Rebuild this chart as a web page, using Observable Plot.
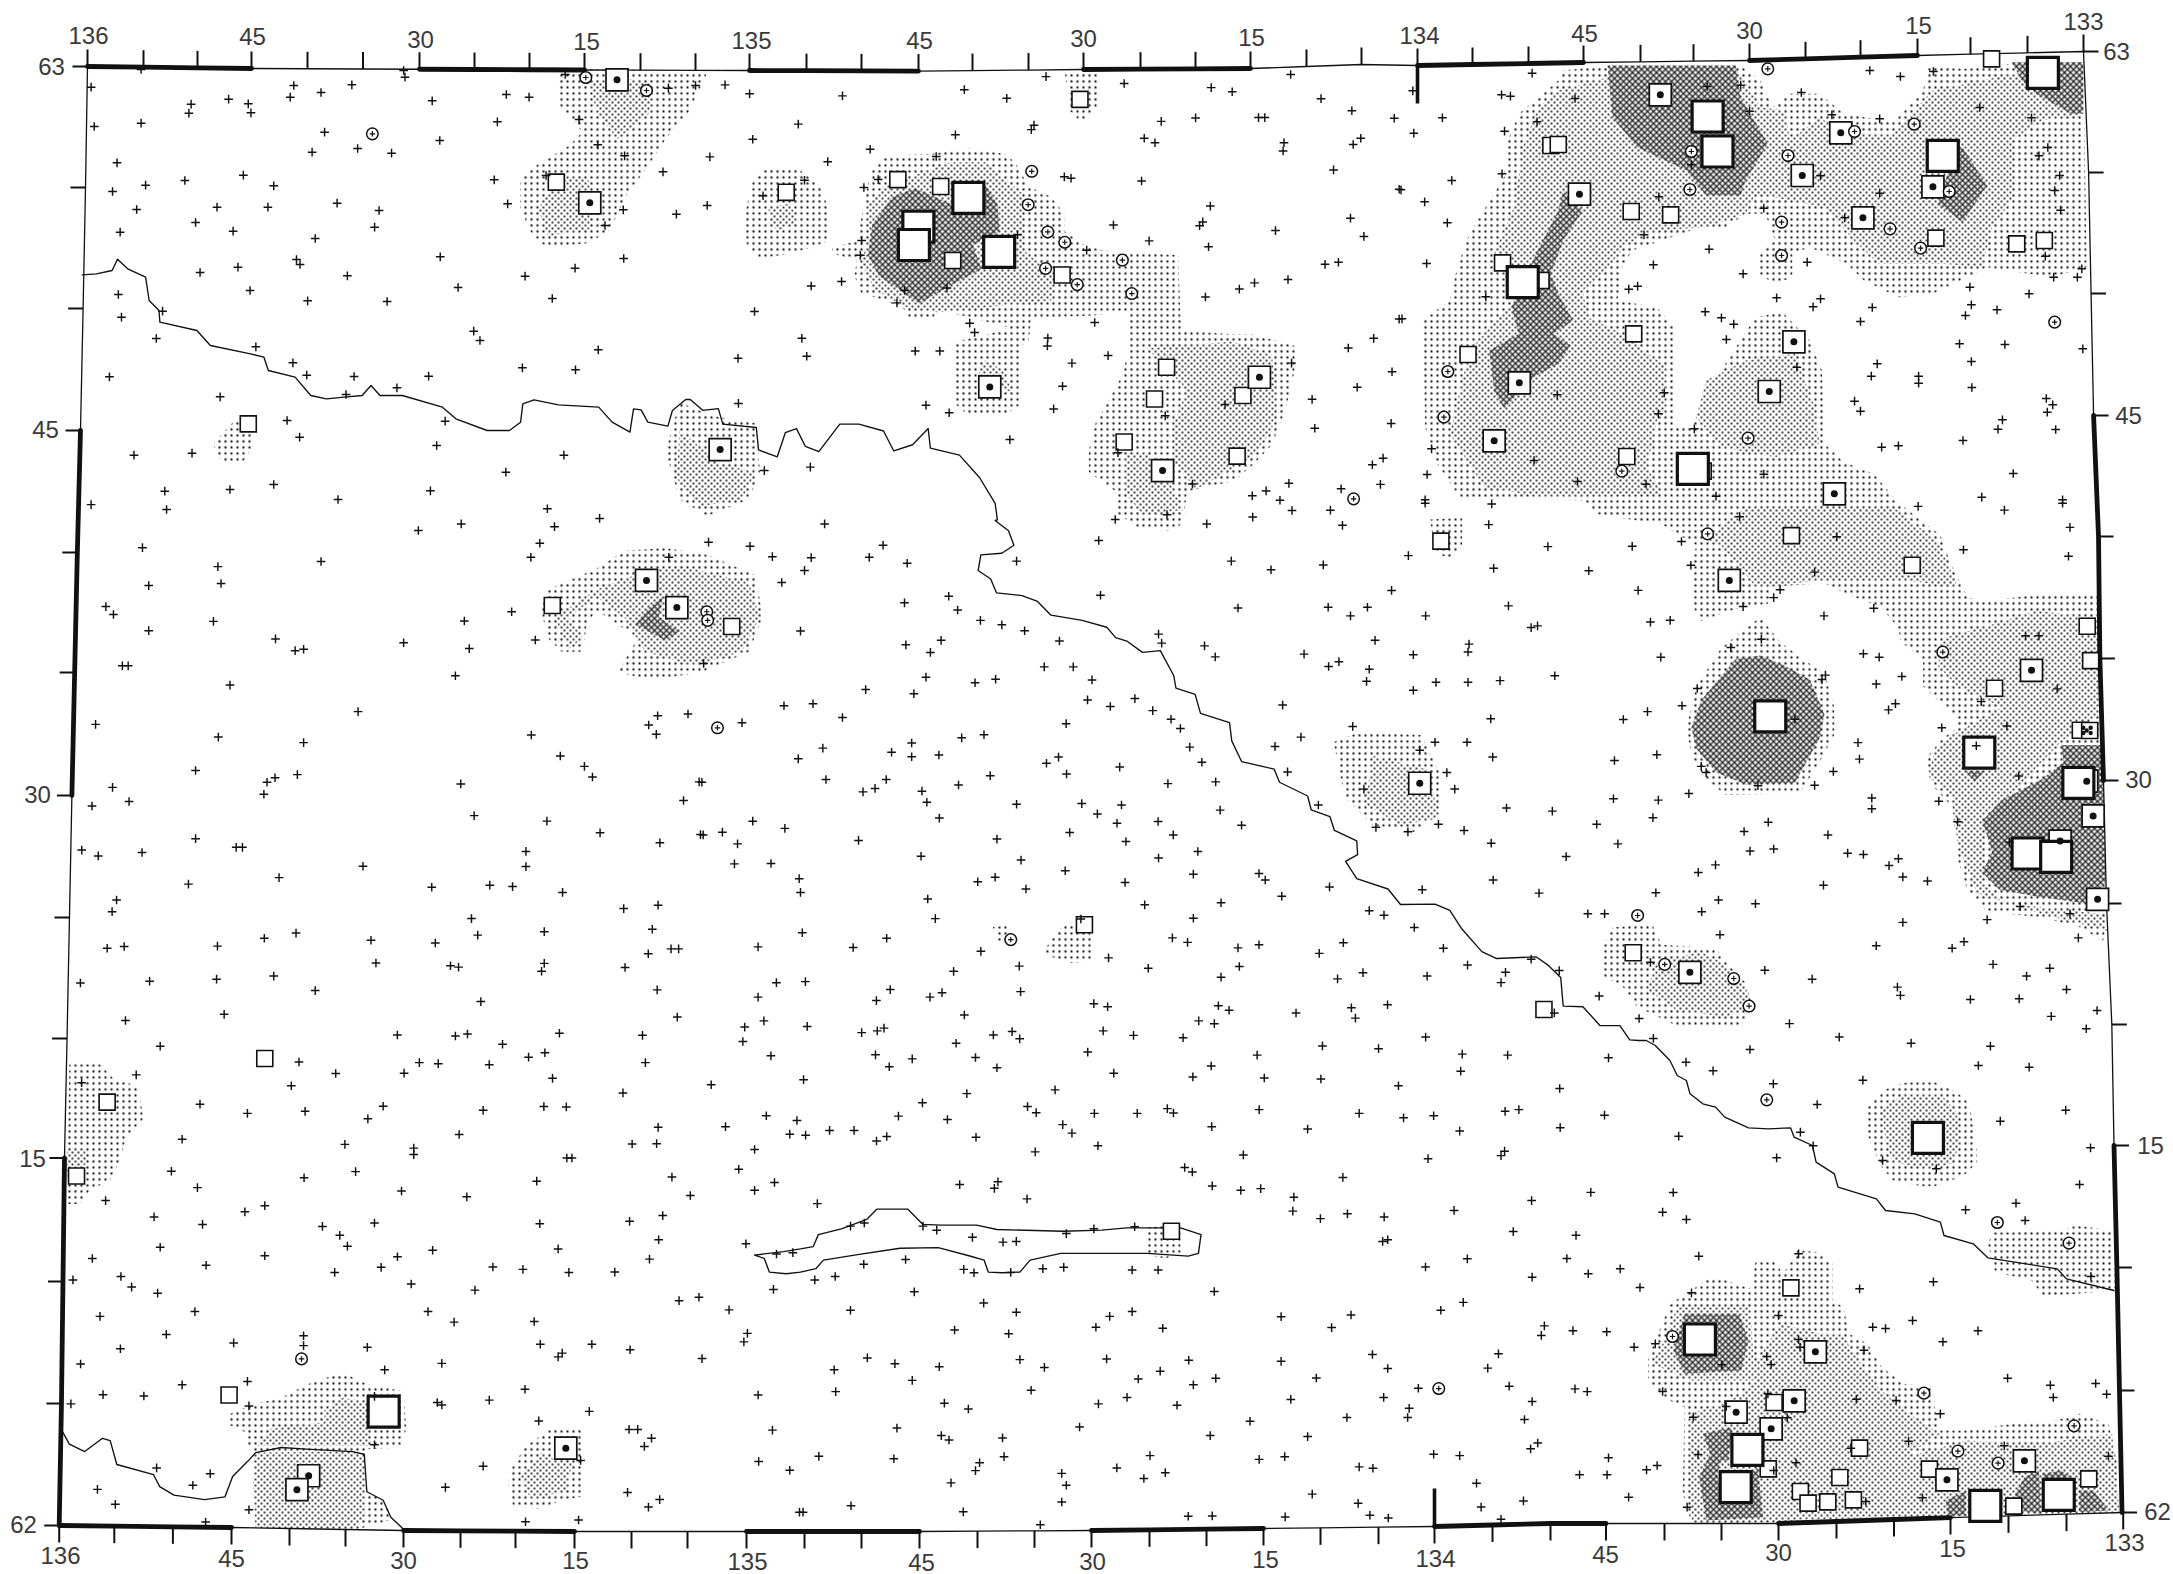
<!DOCTYPE html>
<html><head><meta charset="utf-8">
<style>html,body{margin:0;padding:0;background:#fff}svg{display:block}</style>
<script src="https://cdn.jsdelivr.net/npm/d3@7"></script>
<script src="https://cdn.jsdelivr.net/npm/@observablehq/plot@0.6"></script>
</head><body>
<svg width="0" height="0" style="position:absolute"><defs>
<pattern id="dots1" patternUnits="userSpaceOnUse" width="6" height="6"><circle cx="3" cy="3" r="1.15" fill="#111"/></pattern>
<pattern id="dots2" patternUnits="userSpaceOnUse" width="6" height="6"><rect width="6" height="6" fill="#fff"/><circle cx="3" cy="3" r="1.05" fill="#111"/><circle cx="0" cy="0" r="1.05" fill="#111"/><circle cx="6" cy="0" r="1.05" fill="#111"/><circle cx="0" cy="6" r="1.05" fill="#111"/><circle cx="6" cy="6" r="1.05" fill="#111"/></pattern>
<pattern id="hatch" patternUnits="userSpaceOnUse" width="6" height="6"><rect width="6" height="6" fill="#fff"/><path d="M0 0L6 6M6 0L0 6" stroke="#222" stroke-width="1.35"/></pattern>
</defs></svg>
<div id="chart"></div>
<script>
// digitising frames: origin and magnification of each reading sheet
const sheet=(x0,y0,w,h)=>({x0,y0,kx:1568/w,ky:Math.min(3,1568/h)});
const NW=sheet(0,0,700,500),N=sheet(700,0,700,540),NE=sheet(1400,0,773,500),W=sheet(0,500,700,540),
C=sheet(700,520,700,540),E=sheet(1400,500,773,540),SW=sheet(0,1040,800,534),S=sheet(800,1040,800,534),
SEa=sheet(1600,1040,573,160),SEb=sheet(1600,1200,573,374),OV={x0:0,y0:0,kx:1568/2173,ky:1568/2173};
const read=(s,f)=>{const o=[];for(let i=0;i<f.length;i+=2)o.push({x:s.x0+f[i]/s.kx,y:s.y0+f[i+1]/s.ky});return o};
const readAll=l=>l.flatMap(([s,f])=>read(s,f));

const plusNW=[315,207,203,260,657,255,787,253,427,311,422,338,511,296,555,310,561,337,649,290,718,276,967,301,1133,282,1184,290,1265,222,903,210,906,230,1496,263,1557,255,210,378,315,368,726,395,1113,364,1296,357,984,420,698,455,800,444,876,458,1338,433,1398,466,261,487,413,540,544,524,325,554,612,556,251,573,1106,538,1484,514,1222,525,485,620,305,627,599,620,754,608,848,630,1136,610,1395,628,1514,641,437,666,268,695,521,692,838,680,705,714,1354,675,985,769,663,777,671,792,1396,774,532,800,447,816,777,826,1287,803,1175,827,1025,861,559,870,264,882,688,901,866,903,1236,894,363,932,271,950,1060,992,1074,1020,349,1014,572,1039,1339,1048,655,1087,244,1129,686,1124,792,1128,959,1127,1169,1102,1288,1108,888,1162,774,1182,492,1189,642,1260,996,1262,670,1310,977,1335,299,1364,429,1358,1262,1364,1132,1415,368,1472,514,1467,612,1452,963,1471,756,1497];
const plusN=[55,245,110,271,318,277,591,259,686,284,774,221,949,241,1144,253,1191,265,1322,215,1390,285,1459,320,1032,351,1109,341,1250,340,1264,340,1554,342,219,359,747,362,741,375,117,403,571,390,994,400,1018,413,1307,413,1305,437,1479,400,1462,418,21,454,285,468,380,432,528,453,1418,492,398,520,366,543,233,522,140,567,15,595,815,512,830,516,988,524,1565,548,1142,597,1456,632,1125,643,1118,654,925,652,1288,668,710,680,361,697,358,740,1005,698,1486,685,1138,715,865,725,1399,766,1429,760,248,829,316,816,457,842,552,835,440,878,1241,820,1316,810,1207,838,1131,861,121,903,603,937,614,964,883,935,1565,925,227,981,778,980,777,1003,1508,981,1451,1009,238,1033,84,1039,481,1018,536,1018,913,1031,832,1053,1324,1053,1549,1078,811,1120,1471,1123,85,1170,505,1175,557,1197,791,1186,1175,1173,1370,1158,1041,1206,1376,1242,1547,1228,693,1275,935,1313,246,1355,143,1365,1529,1329,1505,1348,1102,1404,1318,1402,1523,1405,1435,1418,1267,1424,1236,1438,1298,1451,1411,1480,1325,1481,1237,1500,929,1507,1045,1493];
const plusNE=[267,218,622,258,690,254,25,271,205,283,223,287,354,294,952,210,1014,228,1081,213,813,276,1175,321,708,332,875,343,277,364,972,355,85,352,1280,352,211,392,27,398,1313,441,1295,466,590,493,852,526,206,520,104,540,1337,525,1,568,1327,570,49,604,524,589,972,578,737,623,901,652,1339,629,95,667,494,703,626,746,53,789,513,793,825,785,1308,767,1382,805,695,820,1373,830,1325,830,1155,860,463,866,481,857,1275,880,173,889,763,892,852,895,837,919,1158,913,957,921,1146,945,1210,928,618,934,651,952,676,971,3,955,933,963,661,1017,1134,1030,1226,1032,1384,1045,1158,1083,967,1090,804,1100,955,1127,1051,1127,1051,1148,1159,1161,318,1183,535,1177,921,1202,1310,1194,1323,1213,1312,1235,933,1232,523,1240,1221,1258,1212,1286,1329,1287,596,1285,1141,1320,976,1340,1010,1336,63,1345,271,1380,1243,1419,737,1421,54,1422,359,1443,498,1451,640,1487,1179,1490,1343,1498,50,1498];
const plusW=[203,12,372,26,1225,24,1342,52,1032,68,1241,76,936,87,1208,124,318,137,1188,165,1497,165,718,177,487,192,494,241,332,247,236,308,253,331,1145,323,477,351,1039,350,332,378,616,402,1198,405,903,413,660,436,679,432,1050,430,273,480,286,480,1019,509,514,536,801,613,1540,620,1472,625,1452,652,213,650,1469,679,1189,681,488,687,679,703,1254,742,1308,772,437,784,1326,803,665,796,615,805,597,818,1031,823,1565,817,251,833,590,853,1530,871,288,874,205,887,1061,915,1224,931,1343,965,437,982,1568,970,1477,994,528,1007,542,1007,182,1015,219,1032,317,1022,1177,1019,812,1062,1177,1063,624,1095,421,1114,966,1123,1096,1117,1147,1121,1259,1138,260,1160,250,1194,1473,1175,1396,1185,1055,1214,1460,1245,1218,1252,662,1256,591,1271,1069,1262,830,1277,974,1285,239,1300,277,1295,486,1294,1502,1302,1519,1302,1451,1316,1218,1344,841,1343,1008,1351,1026,1355,1212,1367,1399,1356,612,1381,334,1396,484,1390,179,1401,705,1423,1471,1421,1076,1455,501,1492,280,1510,1516,1500,889,1552,1019,1555,1046,1549,1252,1547,1438,1553];
const plusC=[278,10,1134,10,1438,14,18,63,111,75,409,72,892,58,161,105,248,108,378,107,708,118,1189,118,463,124,1395,129,233,145,1278,143,182,180,1548,203,556,220,896,217,457,239,1204,254,1406,252,1494,252,576,260,1456,277,627,290,675,303,224,321,726,320,1026,330,539,348,804,350,1511,348,460,361,1033,356,1129,364,515,383,1352,388,1153,396,7,415,770,425,835,425,1407,424,1430,410,1498,432,505,455,661,461,877,463,615,471,1492,467,370,491,478,503,867,521,973,517,1304,536,187,538,252,532,918,540,1013,552,318,572,1054,577,93,587,819,590,1075,604,1461,598,585,631,635,622,1345,629,473,646,1287,656,274,661,1096,658,428,673,473,686,534,681,219,692,802,687,775,705,1123,702,939,716,820,736,649,741,1315,730,281,752,3,760,416,752,391,778,364,788,1047,764,1154,759,578,768,496,786,507,818,708,824,854,822,943,826,1384,826,1164,841,889,852,535,864,117,873,933,879,1025,874,189,894,1212,885,1513,891,49,905,6,913,827,906,1059,913,83,939,354,929,664,925,953,932,1114,961,494,975,718,986,1026,980,76,997,158,996,817,1017,1104,1027,1251,1025,1265,1044,221,1040,660,1036,621,1049,951,1051,1409,1064,729,1070,224,1080,509,1099,1302,1091,995,1116,1166,1110,1104,1155,526,1156,1498,1133,1531,1146,852,1157,228,1197,1486,780,417,1213,1057,1212,1091,1225,1251,1232,1440,1226,129,1238,342,1240,1204,1241,628,1251,1386,1257,914,1270,714,1294,1207,1295,1003,1300,567,1309,1484,1313,1166,1326,1427,1331,235,1339,170,1342,425,1362,717,1368,541,1371,514,1384,129,1384,394,1394,881,1403,1160,1409,912,1412,1539,1406,1458,1415,1184,1422,1334,1430,591,1436,1467,1445,1116,1453,142,1453,1151,1461,99,1471,239,1469,411,1474,396,1482,698,1484,361,1487,902,1482,656,1494,970,1495,1081,1502,715,1505];
const plusE=[50,8,185,10,1050,17,1225,28,1343,8,688,47,179,70,1358,78,885,105,299,134,470,133,570,119,16,160,1142,143,1355,162,589,188,189,197,382,204,840,208,482,261,770,259,757,282,960,313,219,306,695,308,859,335,51,335,507,353,547,348,265,369,278,364,732,403,1268,393,1295,393,139,417,137,440,670,427,26,448,528,455,939,445,971,455,862,507,855,520,1017,511,313,509,72,528,137,528,202,523,26,551,965,533,602,546,1332,547,1178,584,1004,590,990,608,571,596,501,613,183,634,452,636,800,635,1230,655,1098,660,928,703,70,702,135,702,39,725,1168,712,187,745,520,738,434,755,931,751,610,772,620,790,878,787,94,790,1254,800,725,828,840,827,110,838,585,851,432,866,956,864,523,870,1092,873,215,893,308,902,956,895,512,921,1130,933,398,940,746,934,697,961,77,940,15,962,129,958,867,971,184,995,441,997,1235,992,709,1018,757,1012,336,1034,907,1024,939,1028,1010,1040,639,1058,991,1060,604,1080,1019,1093,1069,1105,188,1102,858,1117,44,1130,518,1139,281,1140,645,1160,720,1171,611,1194,380,1200,414,1200,1257,1179,1358,1200,1190,1217,1019,1225,28,1240,648,1261,1375,1270,965,1293,1143,1281,1119,1300,87,1300,1202,1347,136,1349,507,1341,1317,1358,322,1365,213,1370,739,1364,265,1332,1270,1381,54,1381,204,1400,835,1390,403,1439,1008,1413,1014,1437,1351,1420,1156,1449,1255,1447,312,1488,1413,1481,484,1504,1320,1498,789,1519,1391,1534,51,1558,513,1562,890,1558];
const plusSW=[313,17,984,11,1455,3,1510,45,1035,49,1067,36,585,63,821,65,858,68,958,71,1264,65,657,97,791,96,266,101,1082,111,159,124,570,133,1393,130,1220,154,391,187,1065,194,1109,195,750,193,484,214,597,208,946,205,1501,221,720,230,1561,235,1289,255,1421,253,899,276,1547,275,356,290,1238,304,1286,303,675,305,1478,320,810,316,810,335,1110,345,1120,345,335,384,696,385,1447,378,1316,401,595,403,1051,413,1517,417,386,432,786,442,1478,440,1352,455,914,459,206,470,518,485,479,503,301,518,1298,514,1233,531,396,540,733,536,1057,538,631,546,665,572,1290,585,1461,597,680,604,313,607,1093,612,847,616,518,632,778,635,180,640,1272,642,403,660,746,666,965,665,1024,672,655,681,1114,681,1204,680,236,693,142,703,805,715,257,724,930,733,1515,731,308,742,1369,754,1330,764,381,796,838,796,1428,791,195,810,889,827,1046,825,1464,860,1457,885,325,863,594,867,457,888,1058,892,1159,892,594,896,235,905,719,901,1234,908,1101,918,1093,929,157,950,865,948,1375,934,753,967,484,1001,356,1011,1028,1024,201,1040,281,1044,733,1045,1485,1041,958,1056,856,1063,865,1070,138,1067,487,1073,1154,1089,1055,1117,1232,1142,1249,1142,1513,1144,1276,1168,1262,1192,733,1187,1137,1233,1486,1236,1547,1262,306,1255,946,1250,411,1272,377,1306,190,1318,872,1312,1229,1327,1292,1348,1270,1370,225,1362,487,1378,1566,1385,1133,1408,1029,1413,402,1414,1521,627,1553,623];
const plusS=[305,8,1023,16,1133,24,147,42,219,54,174,77,343,50,385,80,563,34,895,43,1297,40,1386,43,805,75,769,107,909,110,1020,113,1294,90,614,96,6,115,499,145,1172,133,1488,141,326,156,239,183,445,194,462,212,576,214,660,214,719,200,731,213,899,203,1095,214,1182,227,1241,221,1381,208,1408,203,192,222,288,232,514,247,532,272,806,253,994,260,1292,266,1489,256,57,264,105,264,10,278,169,282,149,295,344,284,583,309,460,327,868,336,1230,347,1380,325,1373,338,753,373,768,386,1063,402,807,427,312,423,387,415,380,434,863,440,902,435,444,465,967,460,1549,446,1433,470,33,479,965,501,1281,499,1072,509,1019,523,1144,518,125,536,98,545,240,545,267,557,337,578,521,567,575,553,655,547,397,592,423,590,1397,561,1520,572,1151,585,1141,590,1307,641,1502,640,124,657,206,643,1225,665,320,672,340,682,412,681,475,670,516,666,650,674,701,674,68,693,28,703,1544,685,1434,695,223,738,811,737,359,771,1299,769,1255,792,98,792,423,798,650,796,606,810,942,811,1079,806,579,842,710,845,1041,843,302,850,408,861,1458,838,1452,866,1514,852,1121,922,1368,920,131,932,430,937,600,935,761,939,942,942,185,949,272,958,478,960,66,967,705,971,1347,962,1151,963,662,994,814,992,1011,991,219,998,770,1011,1389,1015,1518,1023,1542,1031,452,1027,69,1031,1211,1021,640,1048,961,1054,1143,1048,282,1065,584,1067,738,1071,1434,1060,329,1082,1193,1080,1071,1107,1190,1107,1419,1113,881,1118,547,1135,189,1138,276,1160,291,1173,396,1167,803,1160,994,1163,1445,1182,1431,1199,36,1221,183,1228,399,1222,685,1219,899,1230,949,1222,1241,1215,1292,1219,351,1240,343,1263,620,1255,1095,1252,1122,1256,715,1269,512,1271,673,1286,1527,1275,521,1306,295,1299,1325,1300,1003,1332,512,1355,1417,1352,99,1366,1093,1359,1334,1370,5,1385,319,1384,1116,1394,760,1397,807,1396,950,1399,1152,1402,1373,1406,470,1422];
const plusSEa=[22,52,409,27,850,8,1067,17,234,65,308,91,1034,75,1173,80,473,130,718,119,593,192,11,224,1273,209,1094,242,547,275,214,287,582,316,1341,322,482,352,772,360,919,385,1311,432,199,456];
const plusSEb=[170,35,235,57,999,28,1137,8,1162,60,269,167,542,160,54,205,108,261,249,277,709,265,911,244,1342,228,487,345,854,360,745,380,780,384,1033,391,17,394,937,424,92,440,150,430,542,417,546,440,721,449,455,468,467,492,332,493,1114,533,1231,554,1355,549,1239,591,1385,581,170,573,458,580,700,596,809,600,930,640,344,618,511,652,254,650,843,722,685,743,1105,736,267,762,22,772,155,795,126,808,18,823,1390,767,535,787,474,810,881,892,77,890,726,903,237,920];

const smallSquares=[[NW,[1245,545,555,1270]],[N,[850,287,442,520,538,540,192,557,565,755,810,797,1044,1065,1017,1157,949,1282,1215,1147,1202,1323]],[W,[1236,305]],[C,[70,308,860,1174]],[E,[82,118,793,102,1038,188,1205,545,1393,365,1400,465,472,1313,291,1478,1379,667,1398,668,1338,985]],[NE,[1199,175,305,435,320,432,468,633,548,643,207,787,285,840,1086,713,1250,730,1306,720,473,1000,137,1062,459,1368,614,1412]],[SW,[518,53,209,181,149,398,448,1041]],[S,[727,560]],[SEb,[521,262,475,606,459,805,709,743,655,831,547,873,568,908,622,904,692,898,900,806,1131,917,1336,835]]];
const midSquares=[[NW,[1381,238,1320,607]],[N,[44,1304,648,1122,1252,1094,1035,1365]],[W,[1447,232,1515,311]],[E,[39,821,667,232,587,1370,1280,493,1405,916,1414,1158,1338,989,1392,815]],[NE,[527,283,893,397,815,525,1080,559,938,652,363,581,798,1024,748,1173,241,1147,190,1321,880,1480]],[SW,[1108,1197,604,1278,581,1319]],[SEb,[588,454,530,601,371,635,467,685,948,838,1160,781]]];
const bigSquares=[[N,[600,573,488,657,478,710,669,730]],[NE,[623,348,643,453,248,845,593,1405,1303,217,1100,466]],[E,[750,627,1174,732,1272,1025,1330,1035,1375,820]],[SEa,[896,292]],[SEb,[272,417,402,748,370,860,1053,916,1254,883]],[SW,[751,1090]]];
const ringMarks=[[NW,[1311,231,1447,270,833,400]],[N,[742,496,734,593,778,672,816,702,945,754,773,778,844,825,966,851,1463,1447]],[C,[38,602,14,265,16,290,695,1217]],[E,[623,97,1100,440,481,1205,536,1347,676,1388,707,1468]],[NE,[745,205,921,393,1042,371,590,453,786,465,1113,573,587,567,773,665,993,685,1055,743,773,765,96,1113,88,1250,1327,965,705,1313,449,1412]],[SW,[590,935]],[S,[1251,1022]],[SEa,[455,178]],[SEb,[197,408,885,578,978,752,1088,788,1296,676,1086,66,1282,128]]];
const darkCentres=[[E,[1385,660,1400,675,1385,675,1400,660,1392,668]]];

const riverMain=[[NW,[183,823,215,820,250,810,262,776,285,805,325,830,333,900,355,930,357,965,440,990,470,1035,560,1060,590,1070,600,1110,660,1130,695,1185,730,1195,770,1190,810,1185,830,1155,850,1185,900,1185,990,1220,1020,1255,1090,1290,1140,1290,1165,1265,1170,1210,1195,1198,1250,1213,1340,1220,1370,1265,1410,1295,1418,1225,1435,1228,1450,1265,1495,1277,1505,1230,1535,1197,1545,1197]],[N,[5,1190,40,1185,50,1230,125,1240,130,1305,172,1325,190,1255,215,1243,235,1295,265,1310,312,1230,355,1230,410,1250,433,1308,475,1290,510,1243,515,1300,580,1320,625,1385,660,1460,665,1508]],[C,[660,0,690,30,702,72,675,95,628,100,622,145,650,170,663,210,720,218,755,235,785,275,855,290,910,310,930,340,955,350,990,383,1030,378,1060,450,1065,487,1108,505,1120,560,1185,587,1190,640,1212,700,1285,722,1297,760,1360,800,1368,840,1410,860,1420,900,1470,930,1472,970,1445,990,1470,1040,1540,1070,1568,1115]],[E,[70,1172,100,1190,125,1245,165,1310,195,1330,275,1325,300,1350,325,1385,330,1468,370,1470,405,1525,445,1525,465,1566]],[SEa,[105,0,125,0,150,15,190,60,210,105,235,120,245,160,280,190,315,200,340,230,405,262,460,265,520,262,530,290,580,315,590,365,640,400,650,440,755,475]],[SEb,[780,30,860,40,930,65,940,105,1020,130,1060,172,1250,205,1275,235,1405,270]]];
const riverSouth=[[SW,[122,1150,135,1185,165,1207,200,1168,215,1175,228,1245,300,1275,312,1310,340,1335,400,1348,440,1340,455,1280,485,1235,500,1210,550,1195,600,1200,690,1207,713,1215,718,1325,750,1350,765,1400,790,1435]]];
const lakeShore=[[SW,[1478,630,1497,640,1507,680,1540,685]],[S,[0,680,30,670,45,645,115,628,195,610,270,608,330,632,360,645,368,680,395,682,430,680,450,645,510,625,680,625,760,633,780,625,785,570,745,550,640,550,590,557,515,560,385,555,345,542,275,542,240,540,210,495,150,495,130,525,80,553,35,570,25,605,0,612]],[SW,[1535,620,1478,630]]];

const lightZones=[[OV,[403,50,460,50,510,52,497,80,480,100,467,120,452,140,440,165,425,175,395,178,385,172,375,150,375,130,385,120,410,105,420,95,403,75]],
[OV,[170,302,180,305,183,320,175,333,160,333,153,320]],
[OV,[490,290,515,300,545,305,548,340,540,360,510,372,490,360,480,325]],
[OV,[768,52,793,52,793,75,780,88,772,80]],
[N,[100,620,115,530,145,485,215,485,270,540,285,600,285,700,240,720,200,735,130,750,100,700]],
[N,[295,715,350,700,365,600,380,500,415,450,520,445,600,430,680,445,705,470,735,540,785,570,815,620,815,670,860,710,900,725,1070,740,1075,915,1085,960,1200,970,1240,970,1335,1005,1330,1080,1310,1190,1280,1290,1240,1345,1195,1395,1090,1425,1080,1520,1050,1540,980,1530,935,1490,935,1430,870,1370,870,1310,880,1240,940,1100,960,1020,960,900,880,915,790,920,740,930,735,990,720,1000,720,1170,680,1205,600,1205,570,1170,570,990,630,975,690,950,605,920,530,900,520,925,470,925,455,895,410,870,360,850,345,800,350,755,295,735]],
[OV,[390,440,395,425,430,410,450,397,480,395,510,400,545,415,550,445,540,470,505,485,470,490,445,485,460,460,430,440,423,450,420,470,405,470,395,460]],
[SW,[135,70,195,70,220,110,270,135,280,230,245,290,235,350,215,410,175,440,155,480,130,480]],
[SW,[445,1100,490,1070,550,1050,600,1010,670,975,720,1010,790,1030,795,1140,785,1195,720,1200,720,1325,750,1350,770,1405,700,1435,500,1430,495,1200,485,1190,480,1150,450,1130]],
[SW,[1000,1260,1030,1190,1085,1135,1140,1135,1140,1340,1100,1350,1060,1375,1005,1370,995,1300]],
[C,[780,1225,815,1170,850,1165,880,1210,880,1280,830,1285,770,1260]],
[C,[655,1180,690,1175,690,1230,670,1230]],
[S,[680,550,710,545,745,550,745,625,715,640,680,630]],
[E,[60,55,125,50,125,135,100,170,70,150]],
[OV,[962,535,980,528,1025,530,1040,560,1040,585,1020,600,990,595,970,575]],
[NE,[330,210,420,195,690,195,730,240,755,320,790,280,850,280,900,340,1000,365,1060,270,1070,200,1150,205,1240,190,1385,185,1392,800,1320,830,1230,810,1190,800,1080,880,1010,890,940,840,905,790,860,760,830,740,795,760,795,830,760,850,725,820,725,760,760,720,740,640,700,640,660,680,590,690,470,750,450,800,440,900,520,920,555,980,555,1280,590,1280,650,1110,720,950,775,935,830,1020,855,1110,860,1330,900,1385,960,1420,1006,1500,370,1500,120,1490,70,1380,50,1280,45,960,100,900,115,800,140,700,210,530,215,430,240,340,320,240]],
[E,[370,0,400,40,530,70,600,130,590,200,590,300,610,350,690,310,745,300,755,250,860,240,910,275,975,310,1010,370,1015,410,1060,460,1060,540,1090,580,1130,630,1130,660,1100,690,1065,750,1080,830,1120,890,1130,1040,1150,1130,1190,1195,1300,1210,1380,1240,1425,1280,1435,1200,1420,620,1415,270,1280,275,1180,295,1150,280,1115,180,1095,100,1040,40,1005,0]],
[E,[580,660,600,540,650,430,700,370,730,340,770,410,815,460,860,500,880,600,880,680,850,760,810,850,660,855,620,810,590,740]],
[E,[410,1300,430,1240,510,1230,530,1290,640,1300,660,1340,700,1400,715,1470,690,1525,560,1525,480,1470,450,1410,410,1380]],
[SEa,[725,210,745,180,790,140,840,125,915,125,975,155,1010,190,1030,330,1030,365,1000,400,960,420,915,437,880,437,800,420,770,380,740,310,725,260]],
[SEb,[130,540,130,470,165,380,190,310,250,270,290,235,330,235,410,265,425,180,470,175,500,220,540,150,600,155,635,190,635,300,665,320,680,400,730,430,770,500,830,550,910,560,915,620,930,690,1000,690,1130,670,1230,665,1310,640,1390,670,1420,820,1425,935,1000,945,950,950,490,965,250,970,225,880,230,620,170,590]],
[SEb,[1060,130,1075,95,1140,95,1265,90,1300,75,1400,90,1410,270,1245,285,1210,285,1180,240,1080,215]]];

const denseZones=[[OV,[405,125,425,130,425,165,395,170,388,150]],[OV,[425,60,445,55,470,60,470,80,445,100,430,80]],
[OV,[490,310,520,335,545,340,535,360,505,365,488,345]],
[N,[370,600,410,540,560,470,640,470,720,560,720,720,790,800,790,870,650,890,530,905,460,890,390,840,360,760,380,680]],
[N,[1000,1010,1100,1000,1190,990,1280,1030,1290,1150,1280,1250,1230,1330,1110,1420,1060,1340,1060,1230,1090,1130]],
[N,[950,1320,1000,1310,1060,1420,1080,1480,990,1490,950,1430]],[N,[640,1040,680,1080,700,1140,620,1090]],[N,[150,600,200,590,220,640,170,670]],
[OV,[400,445,430,425,470,410,500,410,540,420,548,445,535,470,500,480,465,470,450,445,430,430,410,445,420,460,410,468]],
[SW,[130,320,165,320,170,360,130,400]],
[SW,[500,1210,690,1207,715,1220,715,1390,700,1430,500,1430,495,1300]],[SW,[530,1140,590,1130,635,1120,635,1085,670,1050,720,1060,720,1190,500,1190]],
[SW,[1020,1280,1060,1210,1085,1230,1120,1240,1110,1320,1040,1350]],
[OV,[990,545,1030,555,1038,590,1010,595,985,580]],
[NE,[320,270,420,230,690,225,730,320,780,330,790,420,850,350,900,400,1000,400,1060,300,1080,270,1180,240,1240,220,1385,200,1385,340,1300,360,1240,420,1240,600,1200,680,1180,800,1100,790,970,790,920,720,860,620,720,580,700,640,620,680,520,690,460,730,420,800,370,870,380,950,450,1000,540,1100,540,1230,520,1260,500,1400,530,1480,290,1490,170,1460,100,1300,140,1050,230,900,190,760,230,620,250,430,280,320]],
[NE,[620,1140,700,1080,800,1060,840,1220,850,1330,760,1370,650,1340,600,1250]],
[E,[700,20,1000,20,1090,120,1130,250,1010,230,870,230,720,250,650,130,620,110]],
[E,[1100,400,1200,360,1290,320,1410,340,1420,620,1340,700,1240,850,1180,920,1180,1110,1230,1170,1420,1200,1435,1250,1300,1200,1170,1140,1130,1000,1120,860,1070,800,1085,720,1120,680,1220,600,1130,540,1090,480]],
[E,[520,1340,610,1310,650,1340,700,1410,710,1470,660,1500,560,1480,500,1420]],
[SEa,[770,200,840,160,930,160,975,215,985,310,960,370,900,385,800,365,780,300]],
[SEb,[210,320,410,320,420,500,490,370,600,400,660,400,700,470,760,560,820,620,900,680,930,700,830,770,900,750,1000,720,1200,730,1400,700,1420,935,250,965,240,640,340,610,400,570,420,540,250,540,140,490,170,430]]];

const hatchZones=[[N,[430,570,480,545,560,590,640,540,665,590,670,670,610,710,630,780,570,820,490,880,400,800,375,740,385,650]],
[OV,[478,430,475,445,490,455,480,462,458,450,468,438]],
[NE,[420,195,680,195,690,290,745,430,700,540,690,585,620,585,580,510,480,440,430,350]],
[NE,[330,570,370,630,330,720,305,820,320,880,350,960,310,1000,345,1035,320,1090,270,1130,210,1225,190,1170,180,1050,240,1000,225,920,240,870,275,760,320,630]],
[NE,[1140,440,1190,555,1140,665,1090,610,1110,520,1130,440]],
[NE,[1240,185,1385,185,1385,340,1360,340,1290,280,1260,240]],
[E,[590,660,610,580,680,460,730,450,780,480,830,520,860,620,850,690,800,820,700,825,640,790,600,720]],
[E,[1340,710,1425,710,1430,1110,1390,1170,1290,1150,1215,1130,1180,1080,1200,1020,1180,930,1220,870,1300,810,1345,760]],
[E,[1145,785,1185,785,1165,815]],
[SEb,[230,340,380,340,405,420,385,510,230,520,200,450]],
[SEb,[280,700,360,680,350,780,330,780,320,820,330,900,430,800,445,950,290,960,270,830,300,760]],
[SEb,[945,900,1000,870,1000,945,950,945]],[SEb,[1160,830,1200,810,1205,940,1140,930,1135,880]],[SEb,[1210,820,1260,810,1290,830,1210,840]],[SEb,[1310,870,1350,870,1390,930,1310,935]]];

// map border: edge position at sample points
const topEdgeX=[87,251,585,749,918,1083,1250,1361,1417,1583,1749,1917,2083],topEdgeY=[66,68,69.5,70,70.6,69,68,64,65,62,60,55,51];
const bottomEdgeX=[58.7,231,403,574,746,920,1091,1263,1434,1550,1778,1951,2123],bottomEdgeY=[1525,1527,1530,1531,1531,1531,1530,1528,1526,1523,1523,1517,1512];
const leftEdgeY=[66,187,308,430,500,795,1040,1157,1401,1525],leftEdgeX=[87,85,82.6,80,78,71.4,66.5,64,61,58.7];
const rightEdgeY=[51,167,413,534,714,780,903,993,1040,1145,1200,1511],rightEdgeX=[2083,2088,2093,2098,2100,2103,2106,2110,2112,2113.5,2115,2121.5];
const topTicks=[87,143,197,251,307,362.5,419,474,529,584,640,695,749,806,861,918,972,1028,1083,1140,1195,1250,1306,1361,1417,1472,1528,1583,1640,1693,1749,1805,1860,1917,1970,2027,2083];
const bottomTicks=[58.7,113.8,172.4,231,289,345,403,460,515,574,631,687,746,804,861,919,977,1034,1091,1149,1206,1263,1320,1378,1434,1492,1550,1605.5,1664,1721,1778,1836,1893.5,1950,2008,2066,2122.7];
const leftTicks=[66,187,308,430,552,672,795,917,1038,1157.5,1281,1403,1525];
const rightTicks=[51,172,293,415,536,658,780,903,1024,1145,1267,1390,1512];

const topLabels=["136","45","30","15","135","45","30","15","134","45","30","15","133"];
const topLabelX=[88,252,420,586,751,919,1083,1251,1419,1584,1749,1918,2083],topLabelY=[36,37,40,42,41,41,39,38,36,34,31,26,22];
const bottomLabelX=[60,231,403,575,747,921,1092,1265,1435,1605,1778,1952,2124],bottomLabelY=[1556,1559,1561,1561,1562,1563,1562,1560,1559,1555,1553,1549,1543];
const sideLabels=["63","45","30","15","62"];
const leftLabelX=[51,45,37,32,23],leftLabelY=[67,430,795,1159,1525];
const rightLabelX=[2116,2128,2138,2150,2157],rightLabelY=[52,416,780,1146,1512];

const Yt=d3.scaleLinear(topEdgeX,topEdgeY),Yb=d3.scaleLinear(bottomEdgeX,bottomEdgeY),Xl=d3.scaleLinear(leftEdgeY,leftEdgeX),Xr=d3.scaleLinear(rightEdgeY,rightEdgeX);
const tickT=topTicks.map(x=>({x1:x,y1:Yt(x),x2:x,y2:Yt(x)-17}));
const tickB=bottomTicks.map(x=>({x1:x,y1:Yb(x),x2:x,y2:Yb(x)+17}));
const tickL=leftTicks.map(y=>({x1:Xl(y),y1:y,x2:Xl(y)-15,y2:y}));
const tickR=rightTicks.map(y=>({x1:Xr(y),y1:y,x2:Xr(y)+15,y2:y}));
const ptsT=topTicks.map(x=>({x,y:Yt(x)})),ptsB=bottomTicks.map(x=>({x,y:Yb(x)})),ptsL=leftTicks.map(y=>({x:Xl(y),y})),ptsR=rightTicks.map(y=>({x:Xr(y),y}));
const edgeOutline=[...ptsT,...ptsR,...ptsB.slice().reverse(),...ptsL.slice().reverse()];
const thick=[];let id=0;
for(const [p,ranges] of [[ptsT,[[0,3],[6,9],[12,15],[18,21],[24,27],[30,33]]],[ptsB,[[0,3],[6,9],[12,15],[18,21],[24,27],[30,33]]],[ptsL,[[3,6],[9,12]]],[ptsR,[[3,6],[9,12]]]])
 for(const [a,b] of ranges){id++;for(let i=a;i<=b;i++)thick.push({...p[i],id});}
const innerTicks=[{x1:1417,y1:65,x2:1417,y2:103},{x1:1434,y1:1526,x2:1434,y2:1488}];

const tag=l=>l.flatMap(([s,f],i)=>read(s,f).map(d=>({...d,id:i})));
const pluses=[[NW,plusNW],[N,plusN],[NE,plusNE],[W,plusW],[C,plusC],[E,plusE],[SW,plusSW],[S,plusS],[SEa,plusSEa],[SEb,plusSEb]];
const xy={x:"x",y:"y"};
const zone=(l,fill)=>Plot.line(tag(l),{...xy,z:"id",fill,stroke:"none",curve:"linear-closed"});
const river=l=>Plot.line(readAll(l),{...xy,stroke:"#111",strokeWidth:1.35,strokeLinejoin:"round"});
const squares=(l,side,sw)=>Plot.dot(readAll(l),{...xy,symbol:"square",r:side/1.772,fill:"white",stroke:"#111",strokeWidth:sw});
const bw=readAll(ringMarks);
const labelStyle={fontSize:24,fill:"#3a3a3a"};

const chart=Plot.plot({width:2173,height:1574,margin:0,style:{background:"#fff",fontFamily:"'Liberation Sans',sans-serif"},
 x:{domain:[0,2173],range:[0,2173],axis:null},y:{domain:[0,1574],range:[0,1574],axis:null},
 marks:[
  zone(lightZones,"url(#dots1)"),zone(denseZones,"url(#dots2)"),zone(hatchZones,"url(#hatch)"),
  river(riverMain),river(riverSouth),
  Plot.line(readAll(lakeShore),{...xy,stroke:"#111",strokeWidth:1.35}),
  Plot.line(edgeOutline,{...xy,stroke:"#111",strokeWidth:1.3,curve:"linear-closed"}),
  Plot.line(thick,{...xy,z:"id",stroke:"#111",strokeWidth:4.8}),
  Plot.link([...tickT,...tickB,...tickL,...tickR],{x1:"x1",y1:"y1",x2:"x2",y2:"y2",stroke:"#111",strokeWidth:2}),
  Plot.link(innerTicks,{x1:"x1",y1:"y1",x2:"x2",y2:"y2",stroke:"#111",strokeWidth:3.6}),
  Plot.text(topLabels,{x:(d,i)=>topLabelX[i],y:(d,i)=>topLabelY[i],text:d=>d,...labelStyle}),
  Plot.text(topLabels,{x:(d,i)=>bottomLabelX[i],y:(d,i)=>bottomLabelY[i],text:d=>d,...labelStyle}),
  Plot.text(sideLabels,{x:(d,i)=>leftLabelX[i],y:(d,i)=>leftLabelY[i],text:d=>d,...labelStyle}),
  Plot.text(sideLabels,{x:(d,i)=>rightLabelX[i],y:(d,i)=>rightLabelY[i],text:d=>d,...labelStyle}),
  squares(smallSquares,16,1.6),
  squares(midSquares,22,1.7),
  squares(bigSquares,31,3.2),
  Plot.dot(readAll(midSquares),{...xy,r:3.5,fill:"#111",stroke:"none"}),
  Plot.dot(readAll(darkCentres),{...xy,r:2.2,fill:"#111",stroke:"none"}),
  Plot.dot(bw,{...xy,r:5.8,fill:"white",stroke:"#111",strokeWidth:1.5}),
  Plot.dot(bw,{...xy,symbol:"plus",r:1.9,stroke:"#111",strokeWidth:1.2}),
  Plot.dot(readAll(pluses),{...xy,symbol:"plus",r:2.9,stroke:"#111",strokeWidth:1.45})
 ]});
document.getElementById("chart").appendChild(chart);
</script>
</body></html>
